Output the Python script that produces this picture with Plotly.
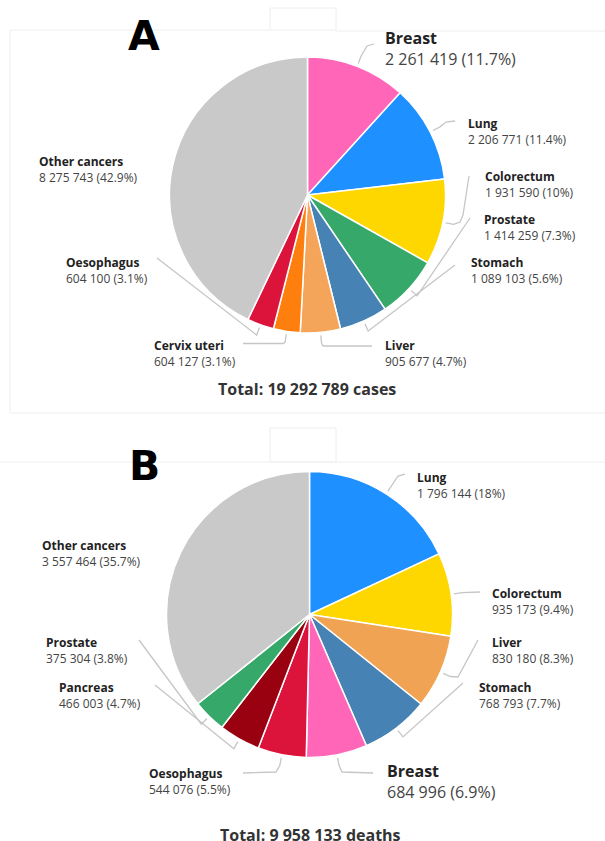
import math
import plotly.graph_objects as go

W, H = 605, 841
FONT = "Open Sans"

# ---- data: new cases (A) ----
cats_a = ["Breast", "Lung", "Colorectum", "Prostate", "Stomach", "Liver",
          "Cervix uteri", "Oesophagus", "Other cancers"]
vals_a = [2261419, 2206771, 1931590, 1414259, 1089103, 905677, 604127, 604100, 8275743]
cols_a = ["#ff66b8", "#1e90ff", "#ffd700", "#35a86a", "#4682b4", "#f4a55a",
          "#ff7f0e", "#dc143c", "#c9c9c9"]

# ---- data: deaths (B) ----
cats_b = ["Lung", "Colorectum", "Liver", "Stomach", "Breast", "Oesophagus",
          "Pancreas", "Prostate", "Other cancers"]
vals_b = [1796144, 935173, 830180, 768793, 684996, 544076, 466003, 375304, 3557464]
cols_b = ["#1e90ff", "#ffd700", "#f0a352", "#4682b4", "#ff66b8", "#dc143c",
          "#990010", "#35a86a", "#c9c9c9"]

# ---- layout: pie geometry in pixels (centre x, centre y, radius) ----
PIE_A = (307.5, 195.0, 138.0)
PIE_B = (309.5, 614.5, 143.0)

# label placement: name -> (left x, y of the two-line block centre, big font?)
lab_a = {
    "Breast": (383, 48, True),
    "Lung": (466, 131.5, False),
    "Colorectum": (483, 184, False),
    "Prostate": (482, 227, False),
    "Stomach": (469, 270, False),
    "Liver": (383, 353, False),
    "Cervix uteri": (152, 353, False),
    "Oesophagus": (64, 270, False),
    "Other cancers": (37, 169, False),
}
lab_b = {
    "Lung": (415, 485, False),
    "Colorectum": (490, 601, False),
    "Liver": (490, 650, False),
    "Stomach": (477, 695, False),
    "Breast": (385, 781, True),
    "Oesophagus": (147, 781, False),
    "Pancreas": (57, 695, False),
    "Prostate": (44, 650, False),
    "Other cancers": (40, 553, False),
}

# leader line bends after the short radial stub
lead_a = {
    "Breast": [(367, 46), (374, 44)],
    "Lung": [(446, 122), (455, 121)],
    "Colorectum": [(460, 222), (463, 215), (469, 176)],
    "Prostate": [(470, 218)],
    "Stomach": [(455, 265)],
    "Liver": [(323, 346), (372, 346)],
    "Cervix uteri": [(283, 343.5), (243, 343.5)],
    "Oesophagus": [(157, 258)],
}
lead_b = {
    "Lung": [(398, 476), (405, 474)],
    "Colorectum": [(480, 592)],
    "Liver": [(458, 677), (478, 640)],
    "Stomach": [(463, 683)],
    "Breast": [(342, 772), (373, 773)],
    "Oesophagus": [(276, 772), (243, 773)],
    "Pancreas": [(155, 685)],
    "Prostate": [(139, 640)],
}


def fmt_num(v):
    return f"{v:,}".replace(",", " ")


def fmt_pct(v, total):
    s = f"{v / total * 100:.1f}"
    return s[:-2] if s.endswith(".0") else s


def pie_domain(geom):
    cx, cy, r = geom
    return dict(x=[(cx - r) / W, (cx + r) / W], y=[1 - (cy + r) / H, 1 - (cy - r) / H])


fig = go.Figure()

for cats, vals, cols, geom in [(cats_a, vals_a, cols_a, PIE_A), (cats_b, vals_b, cols_b, PIE_B)]:
    fig.add_trace(go.Pie(
        labels=cats, values=vals, sort=False, direction="clockwise", rotation=0,
        marker=dict(colors=cols, line=dict(color="white", width=1.5)),
        textinfo="none", hoverinfo="label+value+percent",
        domain=pie_domain(geom), showlegend=False,
    ))

annotations = []


def add_leaders_and_labels(cats, vals, geom, labels, leaders):
    cx, cy, r = geom
    total = sum(vals)
    cum = 0.0
    for cat, v in zip(cats, vals):
        mid = (cum + v / 2) / total * 2 * math.pi
        cum += v
        if cat in leaders:
            sx, sy = math.sin(mid), -math.cos(mid)
            pts = [(cx + (r + 3) * sx, cy + (r + 3) * sy),
                   (cx + (r + 11) * sx, cy + (r + 11) * sy)] + leaders[cat]
            fig.add_trace(go.Scatter(
                x=[p[0] for p in pts], y=[p[1] for p in pts], mode="lines",
                line=dict(color="#c6c6c6", width=1.3), hoverinfo="skip",
                showlegend=False, xaxis="x", yaxis="y",
            ))
        lx, ly, big = labels[cat]
        fs = 16 if big else 12
        annotations.append(dict(
            x=lx, y=ly, xref="x", yref="y", xanchor="left", yanchor="middle",
            align="left", showarrow=False,
            text=(f"<b><span style='color:#222222'>{cat}</span></b><br>"
                  f"{fmt_num(v)} ({fmt_pct(v, total)}%)"),
            font=dict(family=FONT, size=fs, color="#444444"),
        ))
    return total


tot_a = add_leaders_and_labels(cats_a, vals_a, PIE_A, lab_a, lead_a)
tot_b = add_leaders_and_labels(cats_b, vals_b, PIE_B, lab_b, lead_b)

annotations += [
    dict(x=307, y=389, xref="x", yref="y", xanchor="center", yanchor="middle",
         text=f"<b>Total: {fmt_num(tot_a)} cases</b>", showarrow=False,
         font=dict(family=FONT, size=16, color="#333333")),
    dict(x=310, y=835, xref="x", yref="y", xanchor="center", yanchor="middle",
         text=f"<b>Total: {fmt_num(tot_b)} deaths</b>", showarrow=False,
         font=dict(family=FONT, size=16, color="#333333")),
    dict(x=143.5, y=36, xref="x", yref="y", xanchor="center", yanchor="middle",
         text="<b>A</b>", showarrow=False,
         font=dict(family="DejaVu Sans", size=41, color="black")),
    dict(x=144, y=466, xref="x", yref="y", xanchor="center", yanchor="middle",
         text="<b>B</b>", showarrow=False,
         font=dict(family="DejaVu Sans", size=41, color="black")),
]

# faint panel frames
frame = dict(color="#eeeeee", width=1)
shapes = [
    dict(type="line", xref="x", yref="y", x0=10, y0=30, x1=270, y1=30, line=frame),
    dict(type="line", xref="x", yref="y", x0=336, y0=31, x1=605, y1=31, line=frame),
    dict(type="line", xref="x", yref="y", x0=10, y0=30, x1=10, y1=413, line=frame),
    dict(type="line", xref="x", yref="y", x0=10, y0=413, x1=605, y1=413, line=frame),
    dict(type="rect", xref="x", yref="y", x0=270, y0=8, x1=336, y1=30, line=frame),
    dict(type="line", xref="x", yref="y", x0=0, y0=462, x1=605, y1=462, line=frame),
    dict(type="rect", xref="x", yref="y", x0=270, y0=428, x1=336, y1=462, line=frame),
]

fig.update_layout(
    width=W, height=H, margin=dict(l=0, r=0, t=0, b=0),
    paper_bgcolor="white", plot_bgcolor="rgba(0,0,0,0)",
    xaxis=dict(range=[0, W], visible=False, fixedrange=True, domain=[0, 1]),
    yaxis=dict(range=[H, 0], visible=False, fixedrange=True, domain=[0, 1]),
    annotations=annotations, shapes=shapes, showlegend=False,
)

fig.write_html("out.html")
